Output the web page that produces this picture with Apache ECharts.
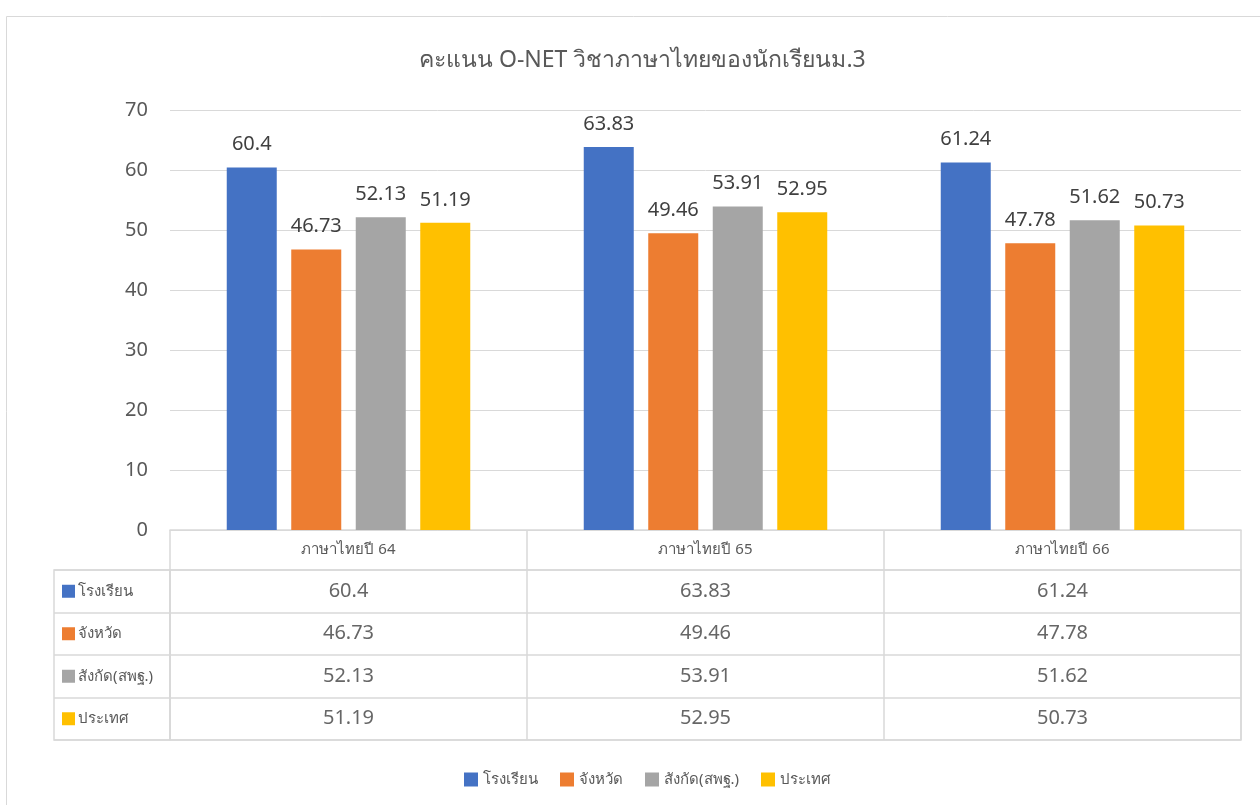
<!DOCTYPE html>
<html>
<head>
<meta charset="utf-8">
<script src="https://cdn.jsdelivr.net/npm/echarts@6/dist/echarts.min.js"></script>
<style>
  html, body { margin: 0; padding: 0; background: #fff; }
  #chart { width: 1260px; height: 805px; }
</style>
</head>
<body>
<div id="chart"></div>
<script>
const categories = ['ภาษาไทยปี 64', 'ภาษาไทยปี 65', 'ภาษาไทยปี 66']
const seriesNames = ['โรงเรียน', 'จังหวัด', 'สังกัด(สพฐ.)', 'ประเทศ']
const school = [60.4, 63.83, 61.24]
const province = [46.73, 49.46, 47.78]
const affiliation = [52.13, 53.91, 51.62]
const country = [51.19, 52.95, 50.73]
const colors = ['#4472C4', '#ED7D31', '#A5A5A5', '#FFC000']

const values = [school, province, affiliation, country]
const fontFam = '"Noto Sans", "DejaVu Sans", sans-serif'
const lineCol = '#d9d9d9'

// table cells: [column, row, value]
const tableCells = []
values.forEach((arr, r) => arr.forEach((v, c) => tableCells.push([c, r, v])))

const rich = {}
colors.forEach((c, i) => { rich['s' + i] = { width: 13, height: 13, backgroundColor: c } })
rich.t = { fontSize: 15, color: '#595959', fontFamily: fontFam, padding: [0, 0, 0, 3] }

const chart = echarts.init(document.getElementById('chart'))
chart.setOption({
  animation: false,
  textStyle: { fontFamily: fontFam },
  color: colors,
  title: {
    text: 'คะแนน O-NET วิชาภาษาไทยของนักเรียนม.3',
    left: 414, top: 44,
    textStyle: { fontSize: 23, fontWeight: 'normal', color: '#595959', fontFamily: fontFam },
  },
  graphic: [{
    type: 'rect', left: 4, top: 14, z: -10,
    shape: { width: 1300, height: 900 },
    style: { fill: 'none', stroke: lineCol, lineWidth: 1 },
  }],
  legend: {
    data: seriesNames,
    top: 767, left: 459,
    itemWidth: 14, itemHeight: 14, itemGap: 22,
    icon: 'rect',
    textStyle: { fontSize: 15, color: '#595959' },
  },
  grid: [
    { left: 170, top: 110, width: 1071, height: 420 },
    { left: 170, top: 570, width: 1071, height: 170, show: true, borderColor: lineCol, borderWidth: 1.5 },
    { left: 54, top: 570, width: 116, height: 170, show: true, borderColor: lineCol, borderWidth: 1.5 },
  ],
  xAxis: [
    {
      gridIndex: 0, type: 'category', data: categories,
      axisLine: { lineStyle: { color: lineCol, width: 1.5 } },
      axisTick: { show: true, length: 40, lineStyle: { color: lineCol, width: 1.5 } },
      axisLabel: { fontSize: 15, color: '#595959', margin: 12 },
    },
    {
      gridIndex: 1, type: 'category', data: categories,
      axisLine: { show: false }, axisTick: { show: false }, axisLabel: { show: false },
      splitLine: { show: true, interval: 0, lineStyle: { color: lineCol, width: 1.5 } },
    },
    {
      gridIndex: 2, type: 'category', data: [''],
      axisLine: { show: false }, axisTick: { show: false }, axisLabel: { show: false },
    },
  ],
  yAxis: [
    {
      gridIndex: 0, type: 'value', min: 0, max: 70, interval: 10,
      axisLine: { show: false }, axisTick: { show: false },
      axisLabel: { fontSize: 20, color: '#595959', margin: 22 },
      splitLine: { lineStyle: { color: lineCol } },
    },
    {
      gridIndex: 1, type: 'category', data: seriesNames, inverse: true,
      axisLine: { show: false }, axisTick: { show: false }, axisLabel: { show: false },
      splitLine: { show: true, interval: 0, lineStyle: { color: lineCol, width: 1.5 } },
    },
    {
      gridIndex: 2, type: 'category', data: seriesNames, inverse: true,
      axisLine: { show: false }, axisTick: { show: false },
      splitLine: { show: true, interval: 0, lineStyle: { color: lineCol, width: 1.5 } },
      axisLabel: {
        inside: true, margin: 8,
        formatter: (v, i) => '{s' + i + '|}{t|' + v + '}',
        rich: rich,
      },
    },
  ],
  series: [
    ...seriesNames.map((name, i) => ({
      name: name, type: 'bar', xAxisIndex: 0, yAxisIndex: 0,
      data: values[i], barWidth: 50, barGap: '29%',
      itemStyle: { color: colors[i] },
      label: { show: true, position: 'top', distance: 13, fontSize: 20, color: '#404040' },
    })),
    {
      name: 'table', type: 'scatter', xAxisIndex: 1, yAxisIndex: 1,
      data: tableCells, symbolSize: 1,
      itemStyle: { color: 'rgba(0,0,0,0)' },
      label: {
        show: true, position: 'inside', fontSize: 20, color: '#404040',
        formatter: p => p.value[2],
      },
      silent: true,
    },
  ],
})
</script>
</body>
</html>
